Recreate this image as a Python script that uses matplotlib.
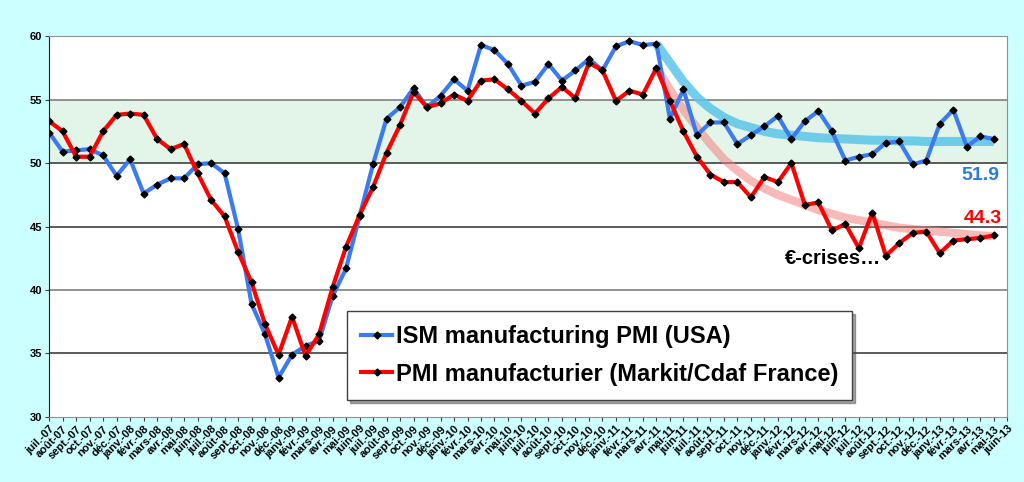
import numpy as np
import matplotlib
matplotlib.use("Agg")
import matplotlib.pyplot as plt
from matplotlib.patches import Rectangle

plt.rcParams['font.family'] = ['Liberation Sans', 'DejaVu Sans']

months = ['juil.-07', 'août-07', 'sept.-07', 'oct.-07', 'nov.-07', 'déc.-07',
          'janv.-08', 'févr.-08', 'mars-08', 'avr.-08', 'mai-08', 'juin-08',
          'juil.-08', 'août-08', 'sept.-08', 'oct.-08', 'nov.-08', 'déc.-08',
          'janv.-09', 'févr.-09', 'mars-09', 'avr.-09', 'mai-09', 'juin-09',
          'juil.-09', 'août-09', 'sept.-09', 'oct.-09', 'nov.-09', 'déc.-09',
          'janv.-10', 'févr.-10', 'mars-10', 'avr.-10', 'mai-10', 'juin-10',
          'juil.-10', 'août-10', 'sept.-10', 'oct.-10', 'nov.-10', 'déc.-10',
          'janv.-11', 'févr.-11', 'mars-11', 'avr.-11', 'mai-11', 'juin-11',
          'juil.-11', 'août-11', 'sept.-11', 'oct.-11', 'nov.-11', 'déc.-11',
          'janv.-12', 'févr.-12', 'mars-12', 'avr.-12', 'mai-12', 'juin-12',
          'juil.-12', 'août-12', 'sept.-12', 'oct.-12', 'nov.-12', 'déc.-12',
          'janv.-13', 'févr.-13', 'mars-13', 'avr.-13', 'mai-13', 'juin-13']

ism_usa = [52.4, 50.9, 51.0, 51.1, 50.6, 49.0, 50.3, 47.6, 48.3, 48.8, 48.8, 49.9,
           50.0, 49.2, 44.8, 38.9, 36.5, 33.1, 34.9, 35.6, 36.0, 39.5, 41.7, 45.8,
           49.9, 53.5, 54.4, 55.9, 54.4, 55.3, 56.6, 55.7, 59.3, 58.9, 57.8, 56.1,
           56.4, 57.8, 56.5, 57.3, 58.2, 57.3, 59.2, 59.6, 59.3, 59.4, 53.5, 55.8,
           52.2, 53.2, 53.2, 51.5, 52.2, 52.9, 53.7, 51.9, 53.3, 54.1, 52.5, 50.2,
           50.5, 50.7, 51.6, 51.7, 49.9, 50.2, 53.1, 54.2, 51.3, 52.1, 51.9]

pmi_france = [53.3, 52.5, 50.5, 50.5, 52.5, 53.8, 53.9, 53.8, 51.9, 51.1, 51.5, 49.2,
              47.1, 45.8, 43.0, 40.6, 37.3, 34.9, 37.9, 34.8, 36.5, 40.2, 43.4, 45.9,
              48.1, 50.8, 53.0, 55.6, 54.4, 54.7, 55.4, 54.9, 56.5, 56.6, 55.8, 54.9,
              53.9, 55.1, 56.0, 55.1, 57.9, 57.3, 54.9, 55.7, 55.4, 57.5, 54.9, 52.5,
              50.5, 49.1, 48.5, 48.5, 47.3, 48.9, 48.5, 50.0, 46.7, 46.9, 44.7, 45.2,
              43.3, 46.1, 42.7, 43.7, 44.5, 44.6, 42.9, 43.9, 44.0, 44.1, 44.3]

# hand-drawn trend curves, from avr.-11 onwards
trend_start = 45
trend_usa = [59.4, 57.9, 56.4, 55.2, 54.3, 53.6, 53.1, 52.8, 52.5, 52.3, 52.2, 52.1,
             52.0, 51.95, 51.9, 51.85, 51.8, 51.8, 51.75, 51.75, 51.7, 51.7, 51.7,
             51.7, 51.7, 51.7]
trend_france = [57.5, 55.8, 54.2, 52.8, 51.5, 50.3, 49.4, 48.6, 48.0, 47.5, 47.1, 46.7,
                46.3, 46.0, 45.7, 45.5, 45.3, 45.1, 44.9, 44.8, 44.7, 44.6, 44.5, 44.4,
                44.3, 44.25]

fig = plt.figure(figsize=(10.24, 4.82), dpi=100, facecolor='#CCFFFF')
ax = fig.add_axes([0.048, 0.135, 0.9357, 0.79])
ax.set_facecolor('white')

x = np.arange(len(ism_usa))
xt = np.arange(trend_start, trend_start + len(trend_usa))

ax.add_patch(Rectangle((0, 50), len(months) - 1, 5, facecolor='#E3F4E9',
                       edgecolor='none', zorder=0))
for yv in [35, 40, 45, 50, 55, 60]:
    ax.axhline(yv, color='#404040' if yv in (35, 45, 50) else '#808080', lw=1.2, zorder=1)

ax.plot(xt, trend_usa, color='#5BC6EA', lw=6.5, alpha=0.85, solid_capstyle='butt', zorder=2)
ax.plot(xt, trend_france, color='#F48080', lw=6, alpha=0.55, solid_capstyle='butt', zorder=2)

ax.plot(x, ism_usa, color='#3A7CF0', lw=3, marker='D', ms=3.5, mfc='black', mec='black',
        zorder=4, label='ISM manufacturing PMI (USA)')
ax.plot(x, pmi_france, color='#FF0000', lw=3, marker='D', ms=3.5, mfc='black', mec='black',
        zorder=5, label='PMI manufacturier (Markit/Cdaf France)')

ax.set_xlim(0, len(months) - 1)
ax.set_ylim(30, 60)
ax.set_yticks([30, 35, 40, 45, 50, 55, 60])
ax.set_yticklabels(['30', '35', '40', '45', '50', '55', '60'], fontsize=8, fontweight='bold')
ax.set_xticks(np.arange(len(months)))
ax.set_xticklabels(months, rotation=45, ha='right', rotation_mode='anchor',
                   fontsize=8, fontweight='bold')
ax.tick_params(axis='x', length=3, pad=2, color='#404040')
ax.tick_params(axis='y', length=3, pad=2, color='#404040')

for side in ['top', 'right']:
    ax.spines[side].set_color('#909090')
ax.spines['left'].set_color('#202020')
ax.spines['bottom'].set_color('#909090')

ax.text(70.4, 49.0, '51.9', color='#2A7FD4', fontsize=14, fontweight='bold',
        ha='right', va='center', zorder=6)
ax.text(70.6, 45.6, '44.3', color='#FF0000', fontsize=14, fontweight='bold',
        ha='right', va='center', zorder=6)
ax.text(58.1, 42.5, '€-crises…', color='black', fontsize=14.5, fontweight='bold',
        ha='center', va='center', zorder=6)

leg = ax.legend(loc='lower left', bbox_to_anchor=(0.311, 0.045), frameon=True,
                fancybox=False, shadow=True, handlelength=1.3,
                borderpad=0.6, labelspacing=0.6, handletextpad=0.15, borderaxespad=0,
                prop={'size': 17, 'weight': 'bold'})
leg.get_frame().set_edgecolor('#404040')
leg.get_frame().set_linewidth(1.0)
leg.set_zorder(7)

fig.savefig('out.png', dpi=100, facecolor=fig.get_facecolor())
